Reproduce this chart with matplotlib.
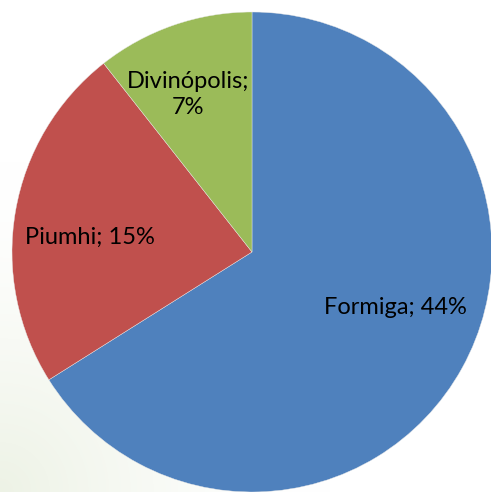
import matplotlib
matplotlib.use("Agg")
import matplotlib.pyplot as plt
import numpy as np

cities = ["Formiga", "Piumhi", "Divinópolis"]
shares = [43.6, 15.4, 7.0]
label_text = ["Formiga; 44%", "Piumhi; 15%", "Divinópolis;\n7%"]
colours = ["#4F81BD", "#C0504D", "#9BBB59"]

plt.rcParams['font.family'] = ['Lato', 'DejaVu Sans']

fig = plt.figure(figsize=(4.91, 4.92), dpi=100)
ax = fig.add_axes([0, 0, 1, 1])

# faint greenish glow in the lower left corner, like the slide background
yy, xx = np.mgrid[0:492, 0:491]
d = np.hypot(xx, yy) / 330.0
fade = np.clip(1 - d, 0, 1) ** 1.5
bg = np.ones((492, 491, 3))
bg[..., 0] -= fade * 0.07
bg[..., 1] -= fade * 0.05
bg[..., 2] -= fade * 0.10
ax.imshow(bg, extent=(0, 491, 0, 492), origin='lower', zorder=0)

wedges, _ = ax.pie(shares, colors=colours, startangle=90, counterclock=False,
                   center=(252, 240), radius=240, frame=True,
                   wedgeprops=dict(edgecolor='#e8e8e8', linewidth=0.3))
ax.set_xlim(0, 491)
ax.set_ylim(0, 492)
ax.axis('off')

# label placement: (angle in degrees, distance from centre in pixels)
label_pos = [(-21, 154), (174.7, 163), (112, 170)]
for txt, (ang, dist) in zip(label_text, label_pos):
    a = np.deg2rad(ang)
    ax.text(252 + dist * np.cos(a), 240 + dist * np.sin(a), txt,
            ha='center', va='center', fontsize=17, color='black',
            linespacing=1.3, zorder=5)

fig.savefig("out.png", dpi=100)
